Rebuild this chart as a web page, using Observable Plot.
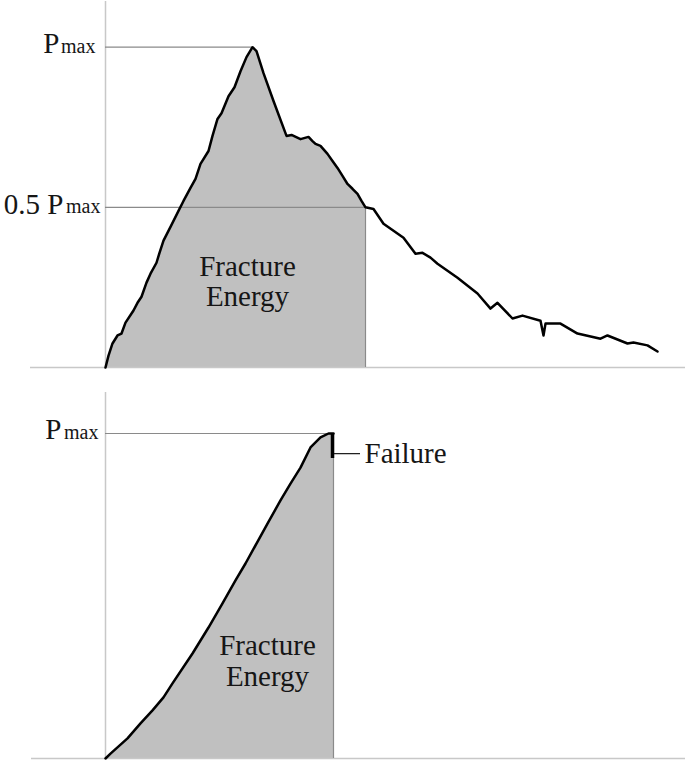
<!DOCTYPE html>
<html><head><meta charset="utf-8">
<script src="https://cdn.jsdelivr.net/npm/d3@7"></script>
<script src="https://cdn.jsdelivr.net/npm/@observablehq/plot@0.6"></script>
<style>body{margin:0;background:#fff}#c svg{display:block}#c svg text{font-family:"Liberation Serif","DejaVu Serif",serif}</style>
</head><body><div id="c"></div>
<script>
// Top panel: load (fraction of Pmax) vs displacement, with post-peak softening
const topX = [0,0.03,0.07,0.12,0.16,0.20,0.28,0.32,0.36,0.41,0.45,0.51,0.54,0.58,0.65,0.73,0.78,0.85,0.90,0.95,1.03,1.07,1.12,1.16,1.23,1.29,1.35,1.41,1.47,1.51,1.58,1.68,1.81,1.86,1.95,2.03,2.07,2.10,2.15,2.22,2.27,2.32,2.37,2.42,2.47,2.52,2.56,2.60,2.68,2.78,2.88,2.98,3.10,3.17,3.25,3.32,3.52,3.72,3.85,3.92,4.07,4.17,4.35,4.38,4.40,4.55,4.72,4.95,5.02,5.22,5.28,5.42,5.52];
const topY = [0,0.037,0.075,0.100,0.106,0.140,0.178,0.202,0.221,0.265,0.293,0.327,0.358,0.396,0.439,0.489,0.520,0.561,0.589,0.636,0.676,0.723,0.776,0.794,0.847,0.875,0.925,0.969,1.0,0.988,0.919,0.832,0.723,0.726,0.713,0.720,0.707,0.698,0.692,0.667,0.645,0.623,0.598,0.573,0.558,0.542,0.520,0.50,0.495,0.449,0.427,0.405,0.355,0.358,0.343,0.324,0.28,0.231,0.184,0.202,0.153,0.162,0.146,0.10,0.137,0.137,0.106,0.09,0.1,0.075,0.078,0.069,0.05];
const topCut = 2.60;      // displacement where load drops to 0.5 Pmax
const topRefLevels = [1.0, 0.5];
// Bottom panel: brittle response up to failure
const botX = [0,0.05,0.22,0.35,0.47,0.58,0.67,0.87,1.03,1.17,1.30,1.40,1.62,1.75,1.85,1.95,2.05,2.15,2.23,2.28];
const botY = [0,0.015,0.062,0.108,0.148,0.188,0.231,0.323,0.403,0.477,0.548,0.600,0.723,0.794,0.846,0.895,0.957,0.988,1.0,1.0];
const botFail = 2.28;
const areaLabel = ["Fracture", "Energy"];
const failLabel = "Failure";

const topData = topX.map((x, i) => ({x, y: topY[i]}));
const botData = botX.map((x, i) => ({x, y: botY[i]}));
const serif = "Liberation Serif";
const txt = "#161616", axisC = "#c8c8c8", refC = "#8a8a8a", fillC = "#c0c0c0";

function pLabel(y, prefix, dxMax, dxP, dyOff) {
  return [
    Plot.text([prefix + "P"], {x: 0, y, text: d => d, textAnchor: "end", dx: dxP, dy: dyOff, fontSize: 29, fontFamily: serif, fill: txt}),
    Plot.text(["max"], {x: 0, y, text: d => d, textAnchor: "end", dx: dxMax, dy: dyOff + 2.6, fontSize: 20, fontFamily: serif, fill: txt})
  ];
}

const topChart = Plot.plot({
  width: 685, height: 380,
  style: {fontFamily: "'Liberation Serif', serif"},
  x: {domain: [0, 5.8], range: [105, 685], axis: null},
  y: {domain: [0, 1], range: [367, 46.7], axis: null},
  marks: [
    Plot.areaY(topData.filter(d => d.x <= topCut), {x: "x", y: "y", fill: fillC}),
    Plot.ruleY([0], {x1: -0.75, x2: 5.8, stroke: axisC, strokeWidth: 1.5}),
    Plot.ruleX([0], {y1: 0, y2: 1.143, stroke: axisC, strokeWidth: 1.5}),
    Plot.ruleY([topRefLevels[0]], {x1: 0, x2: topX[topY.indexOf(1.0)], stroke: refC, strokeWidth: 1.2}),
    Plot.ruleY([topRefLevels[1]], {x1: 0, x2: topCut, stroke: refC, strokeWidth: 1.2}),
    Plot.ruleX([topCut], {y1: 0, y2: topRefLevels[1], stroke: refC, strokeWidth: 1.2}),
    Plot.line(topData, {x: "x", y: "y", stroke: "#000", strokeWidth: 2.5, strokeLinejoin: "round"}),
    ...pLabel(topRefLevels[0], "", -10, -46, -3.7),
    ...pLabel(topRefLevels[1], "0.5 ", -5, -42, -3),
    Plot.text([areaLabel[0]], {x: 1.42, y: 0.316, text: d => d, fontSize: 29, fontFamily: serif, fill: txt}),
    Plot.text([areaLabel[1]], {x: 1.42, y: 0.222, text: d => d, fontSize: 29, fontFamily: serif, fill: txt})
  ]
});

const failY = 0.938;
const botChart = Plot.plot({
  width: 685, height: 381,
  style: {fontFamily: "'Liberation Serif', serif"},
  x: {domain: [0, 5.8], range: [105, 685], axis: null},
  y: {domain: [0, 1], range: [378, 53], axis: null},
  marks: [
    Plot.areaY(botData, {x: "x", y: "y", fill: fillC}),
    Plot.ruleY([0], {x1: -0.74, x2: 5.8, stroke: axisC, strokeWidth: 1.5}),
    Plot.ruleX([0], {y1: 0, y2: 1.126, stroke: axisC, strokeWidth: 1.5}),
    Plot.ruleY([1.0], {x1: 0, x2: botFail, stroke: refC, strokeWidth: 1.2}),
    Plot.ruleX([botFail], {y1: 0, y2: 1.0, stroke: refC, strokeWidth: 1.2}),
    Plot.line(botData, {x: "x", y: "y", stroke: "#000", strokeWidth: 2.5, strokeLinejoin: "round"}),
    Plot.ruleX([botFail], {dx: -1, y1: 1.0, y2: 0.923, stroke: "#000", strokeWidth: 3.5}),
    Plot.ruleY([failY], {x1: botFail + 0.01, x2: 2.55, stroke: txt, strokeWidth: 1.2}),
    Plot.text([failLabel], {x: 2.59, y: failY, text: d => d, textAnchor: "start", fontSize: 29, fontFamily: serif, fill: txt}),
    ...pLabel(1.0, "", -7, -44, -4),
    Plot.text([areaLabel[0]], {x: 1.62, y: 0.346, text: d => d, fontSize: 29, fontFamily: serif, fill: txt}),
    Plot.text([areaLabel[1]], {x: 1.62, y: 0.253, text: d => d, fontSize: 29, fontFamily: serif, fill: txt})
  ]
});

document.getElementById("c").append(topChart, botChart);
</script></body></html>
